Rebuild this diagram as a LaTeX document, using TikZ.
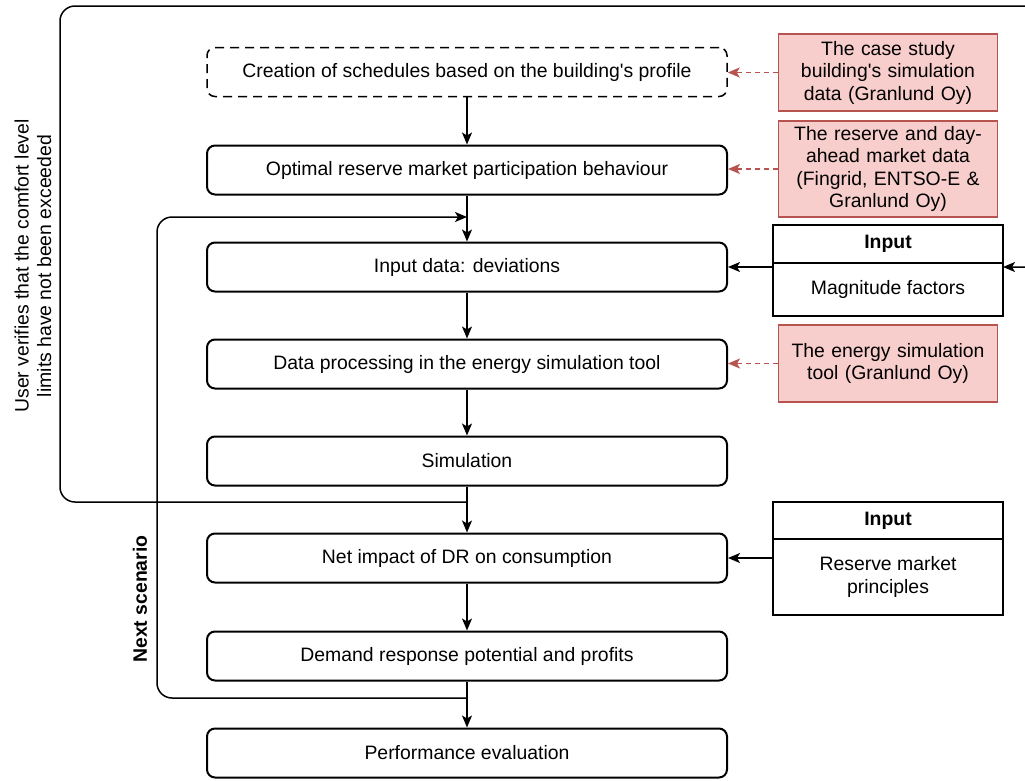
\documentclass[tikz,border=0pt]{standalone}
\usepackage{fontspec}
\setmainfont{Liberation Sans}
\usepackage{tikz}
\usetikzlibrary{arrows.meta,positioning}
\definecolor{srcfill}{HTML}{F8CECC}
\definecolor{srcline}{HTML}{B85450}
\newcommand{\boxfont}{\fontsize{19.4}{22.5}\selectfont}
\tikzset{
  stepbox/.style={draw, line width=2pt, rounded corners=8pt, minimum width=520pt,
    minimum height=49pt, font=\boxfont},
  srcbox/.style={draw=srcline, fill=srcfill, line width=1.5pt, text width=212pt,
    align=center, font=\boxfont},
  inputhead/.style={draw, line width=1.5pt, minimum width=230pt, outer sep=0pt,
    font=\boxfont\bfseries},
  inputbody/.style={draw, line width=1.5pt, minimum width=230pt, outer sep=0pt,
    align=center, font=\boxfont},
  flow/.style={line width=1.5pt, -{Stealth[length=12pt,width=10pt,inset=3pt]}},
  srcflow/.style={flow, draw=srcline, line width=1.7pt, dash pattern=on 5pt off 4pt},
}

\begin{document}
\begin{tikzpicture}[x=1pt,y=-1pt]
    \useasboundingbox (0,0) rectangle (1025,780);
    \clip (0,0) rectangle (1025,780);
    % main column
    \node[stepbox, line width=1.5pt, dash pattern=on 9pt off 6pt] (sched) at (467,72)
      {Creation of schedules based on the building\textquotesingle s profile};
    \foreach \name/\ypos/\txt in {opt/170/Optimal reserve market participation behaviour,
        inp/267/Input data: deviations,
        proc/364/Data processing in the energy simulation tool,
        sim/461/Simulation,
        net/558/Net impact of DR on consumption,
        dem/656/Demand response potential and profits,
        perf/753/Performance evaluation} {
      \node[stepbox] (\name) at (467,\ypos) {\txt};
    }
    \foreach \a/\b in {sched/opt,opt/inp,inp/proc,proc/sim,sim/net,net/dem,dem/perf} {
      \draw[flow] (\a) -- (\b);
    }
    % data sources
    \node[srcbox, minimum height=77pt] (caseData) at (888,72.5)
      {The case study\\building\textquotesingle s simulation\\data (Granlund Oy)};
    \node[srcbox, minimum height=96pt] (marketData) at (888,169)
      {The reserve and day-\\ahead market data\\(Fingrid, ENTSO-E \&\\Granlund Oy)};
    \node[srcbox, minimum height=77pt] (toolData) at (888,363.5)
      {The energy simulation\\tool (Granlund Oy)};
    \draw[srcflow] (caseData.west) -- (caseData.west -| sched.east);
    \draw[srcflow] (marketData.west) -- (marketData.west -| opt.east);
    \draw[srcflow] (toolData.west) -- (toolData.west -| proc.east);
    % inputs
    \node[inputhead, minimum height=38pt] (magHead) at (888,244) {Input};
    \node[inputbody, minimum height=53pt, below=0pt of magHead] (magBody) {Magnitude factors};
    \node[inputhead, minimum height=37pt] (resHead) at (888,520.5) {Input};
    \node[inputbody, minimum height=76pt, below=0pt of resHead] (resBody) {Reserve market\\principles};
    \draw[flow] (inp.east -| magHead.west) -- (inp.east);
    \draw[flow] (net.east -| resHead.west) -- (net.east);
    % feedback loops
    \coordinate (verifyStart) at (467,502);
    \coordinate (nextStart) at (467,698);
    \draw[flow, rounded corners=15pt] (verifyStart) -- (60,502) -- (60,6) -- (1045,6)
      -- (1045,267) -- (inp.east -| magHead.east);
    \draw[flow, rounded corners=15pt] (nextStart) -- (157,698) -- (157,217) -- (467,217);
    \node[rotate=90, align=center, font=\boxfont] (verifyLabel) at (33,266)
      {User verifies that the comfort level\\limits have not been exceeded};
    \node[rotate=90, font=\boxfont\bfseries] (nextLabel) at (140,599) {Next scenario};
\end{tikzpicture}
\end{document}
